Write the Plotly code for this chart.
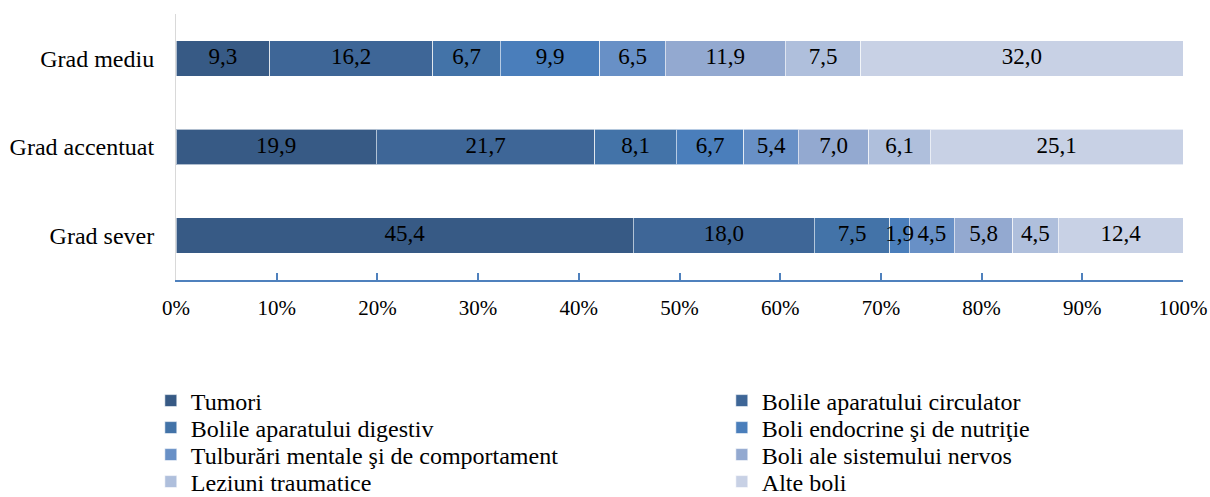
import numpy as np
import plotly.graph_objects as go

categories = ["Grad sever", "Grad accentuat", "Grad mediu"]
series_names = [
    "Tumori",
    "Bolile aparatului circulator",
    "Bolile aparatului digestiv",
    "Boli endocrine şi de nutriţie",
    "Tulburări mentale şi de comportament",
    "Boli ale sistemului nervos",
    "Leziuni traumatice",
    "Alte boli",
]
# values per series, in order [Grad sever, Grad accentuat, Grad mediu]
tumori = [45.4, 19.9, 9.3]
circulator = [18.0, 21.7, 16.2]
digestiv = [7.5, 8.1, 6.7]
endocrine = [1.9, 6.7, 9.9]
mentale = [4.5, 5.4, 6.5]
nervos = [5.8, 7.0, 11.9]
traumatice = [4.5, 6.1, 7.5]
alte = [12.4, 25.1, 32.0]
series_values = [tumori, circulator, digestiv, endocrine, mentale, nervos, traumatice, alte]
colors = ["#375A85", "#3E6697", "#4373A8", "#4A7EBB", "#6890C6", "#93A9D0", "#AFBFDC", "#C8D1E5"]
tick_vals = [0, 10, 20, 30, 40, 50, 60, 70, 80, 90, 100]
tick_text = ["0%", "10%", "20%", "30%", "40%", "50%", "60%", "70%", "80%", "90%", "100%"]

FONT = "Liberation Serif"

W, H = 1210, 497
PLOT_L, PLOT_R, PLOT_T, PLOT_B = 176, 1183, 14, 280
plot_h = PLOT_B - PLOT_T

legend_ids = ["legend", "legend", "legend2", "legend2", "legend3", "legend3", "legend4", "legend4"]

fig = go.Figure()
for name, vals, col, lg in zip(series_names, series_values, colors, legend_ids):
    fig.add_trace(go.Bar(
        y=categories, x=vals, name=name, orientation="h",
        marker=dict(color=col, line=dict(color="rgba(255,255,255,0.6)", width=1)),
        textposition="none", hoverinfo="skip", legend=lg,
    ))

# value labels centred on each segment, drawn above all bars
arr = np.array(series_values)
cum = np.cumsum(arr, axis=0)
mid = cum - arr / 2
lab_x, lab_y, lab_t = [], [], []
for i in range(arr.shape[0]):
    for j, cat in enumerate(categories):
        lab_x.append(mid[i, j])
        lab_y.append(cat)
        lab_t.append(f"{arr[i, j]:.1f}".replace(".", ","))
fig.add_trace(go.Scatter(
    x=lab_x, y=lab_y, text=lab_t, mode="text", textposition="middle center",
    textfont=dict(family=FONT, size=23, color="black"),
    showlegend=False, hoverinfo="skip", cliponaxis=False,
))

row_centers = [401, 428, 455, 482]
legend_common = dict(
    orientation="h", x=-0.025, xanchor="left", yanchor="middle",
    entrywidth=526, entrywidthmode="pixels",
    font=dict(family=FONT, size=24, color="black"),
    itemwidth=30, traceorder="normal", bgcolor="rgba(0,0,0,0)",
)
legends = {}
for k, yc in enumerate(row_centers):
    key = "legend" if k == 0 else f"legend{k + 1}"
    legends[key] = dict(legend_common, y=(PLOT_B - yc) / plot_h)

fig.update_layout(
    barmode="stack",
    bargap=0.6,
    width=W, height=H,
    margin=dict(l=PLOT_L, r=W - PLOT_R, t=PLOT_T, b=H - PLOT_B, autoexpand=False),
    plot_bgcolor="white", paper_bgcolor="white",
    font=dict(family=FONT, size=22, color="black"),
    xaxis=dict(
        range=[0, 100], tickvals=tick_vals, ticktext=tick_text,
        showgrid=False, zeroline=False,
        showline=True, linecolor="#4F81BD", linewidth=1.5,
        ticks="inside", ticklen=7, tickcolor="#4F81BD", tickwidth=1.5,
        ticklabelstandoff=8,
        tickfont=dict(family=FONT, size=21, color="black"),
    ),
    yaxis=dict(
        showgrid=False, zeroline=False,
        showline=True, linecolor="#D9D9D9", linewidth=1,
        ticks="", ticklabelstandoff=16,
        tickfont=dict(family=FONT, size=24, color="black"),
    ),
    showlegend=True,
    **legends,
)

fig.write_html(
    "out.html",
    config={"displayModeBar": False},
    post_script="document.body.style.margin='0';document.body.style.overflow='hidden';",
)
